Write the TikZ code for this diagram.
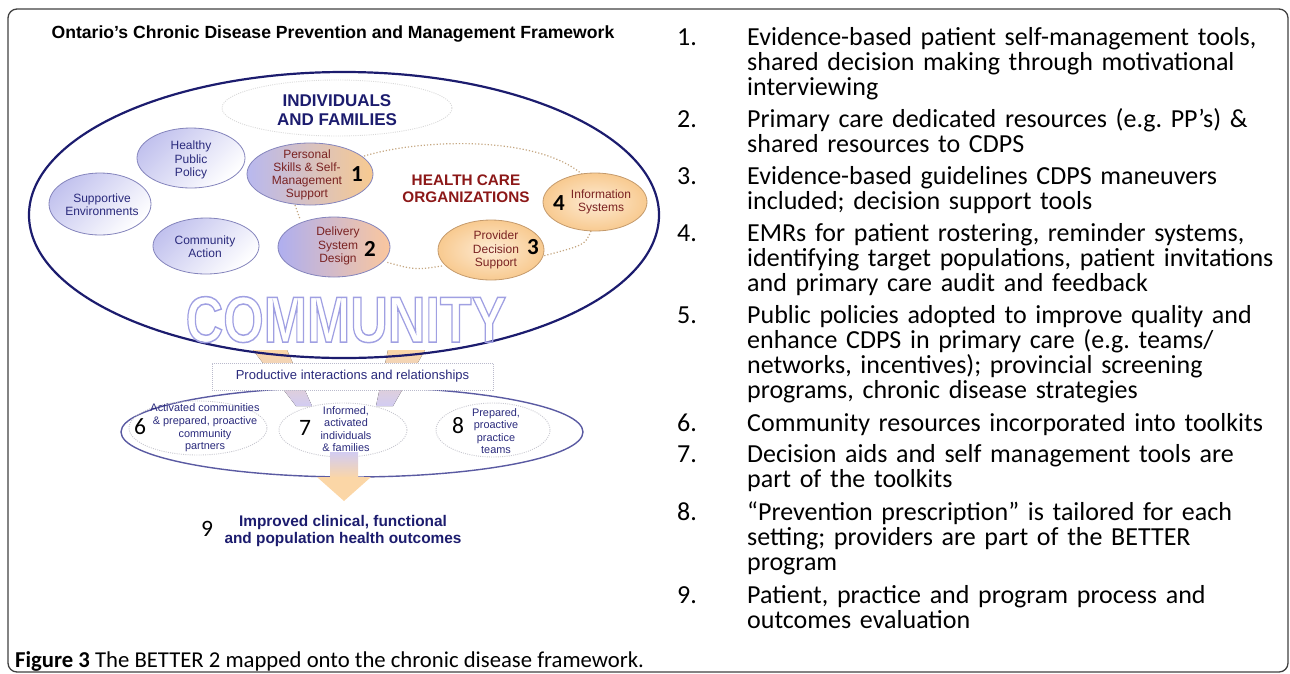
\documentclass[tikz,border=0pt]{standalone}
\usepackage{fontspec}
\usepackage{graphicx}
\setmainfont{Liberation Sans}
\newfontfamily\calfont{Carlito}
\usetikzlibrary{shapes.geometric}
\definecolor{navy}{HTML}{1C1C6E}
\definecolor{lav}{HTML}{C2C2EE}
\definecolor{lavline}{HTML}{8484BC}
\definecolor{peach}{HTML}{F8CA90}
\definecolor{peachlight}{HTML}{FDEBD4}
\definecolor{peachline}{HTML}{C49A6C}
\definecolor{funpeach}{HTML}{FBD6A6}
\definecolor{funlav}{HTML}{D2CCF2}
\definecolor{bluetext}{HTML}{2A2A7C}
\definecolor{redtext}{HTML}{7A2222}
\definecolor{hcred}{HTML}{8C1818}
\definecolor{dotbrown}{HTML}{C4A680}
\definecolor{dotgray}{HTML}{C8C8D0}
\definecolor{commline}{HTML}{A0A0E2}
\definecolor{lowline}{HTML}{5A5AA2}
\newcommand\outlinetext[1]{\special{pdf:literal direct 1 Tr 1.2 w}#1\special{pdf:literal direct 0 Tr}}
\begin{document}
\begin{tikzpicture}[x=1pt,y=-1pt,
  ell/.style={ellipse,inner sep=0pt},
  lavell/.style={ell,draw=lavline,line width=0.8pt,top color=lav,bottom color=white,shading angle=45},
  peachell/.style={ell,draw=peachline,line width=0.8pt,inner color=peachlight,outer color=peach},
  dotell/.style={ell,draw=dotgray,line width=0.9pt,dash pattern=on 1pt off 1.2pt},
  smalltxt/.style={align=center,inner sep=0pt,font=\fontsize{12}{13.2}\selectfont},
  lowtxt/.style={align=center,inner sep=0pt,font=\fontsize{10.9}{12.6}\selectfont,text=bluetext},
  num/.style={inner sep=0pt,font=\calfont\bfseries\fontsize{23}{23}\selectfont},
  numreg/.style={inner sep=0pt,font=\calfont\fontsize{23.5}{23.5}\selectfont},
  dotpath/.style={draw=dotbrown,line width=1.2pt,dash pattern=on 1.2pt off 2pt},
  listnum/.style={anchor=base west,inner sep=0pt,font=\calfont\fontsize{26}{25}\selectfont},
  listtxt/.style={anchor=base west,inner sep=0pt,text width=540pt,align=left,font=\calfont\frenchspacing\fontsize{26}{25}\selectfont}
]
\useasboundingbox (0,0) rectangle (1290,673);
\draw[line width=1.3pt,black!75,rounded corners=9pt] (8,9) rectangle (1288,672);

% title
\node[inner sep=0pt,font=\bfseries\fontsize{17.6}{17.6}\selectfont] (title) at (333,34) {Ontario's Chronic Disease Prevention and Management Framework};

% funnel arrows
\fill[top color=funpeach,bottom color=funlav] (253,350) -- (287,350) -- (312,406) -- (296,406) -- cycle;
\fill[top color=funpeach,bottom color=funlav] (388,350) -- (425,350) -- (393,406) -- (376,406) -- cycle;

% big ellipse
\node[ell,draw=navy,line width=2.2pt,minimum width=630pt,minimum height=286pt] (big) at (344,215) {};
\node[dotell,draw=black!15,minimum width=230pt,minimum height=56pt] (indiv) at (337,108) {};
\node[inner sep=0pt,align=center,text=navy,font=\bfseries\fontsize{17}{19}\selectfont] (indivt) at (337,110) {INDIVIDUALS\\AND FAMILIES};

% dotted health care loop
\draw[dotpath] (361,157) .. controls (420,138) and (540,135) .. (584,176);
\draw[dotpath] (591,231) .. controls (585,245) .. (543,256);
\draw[dotpath] (442,266) .. controls (415,270) .. (386,262);
\draw[dotpath] (295,205) -- (300,219);

% ellipses
\node[lavell,minimum width=108pt,minimum height=60pt] (hpp) at (191,158) {};
\node[lavell,minimum width=102pt,minimum height=62pt] (se) at (100,204) {};
\node[lavell,minimum width=106pt,minimum height=56pt] (ca) at (206,246) {};
\node[ell,draw=lavline,line width=0.8pt,left color=lav!95!blue,right color=peach,minimum width=126pt,minimum height=62pt] (ps) at (310,174) {};
\node[ell,draw=lavline,line width=0.8pt,left color=lav!90!blue,right color=peach!70!pink,minimum width=112pt,minimum height=60pt] (dsd) at (334,247) {};
\node[peachell,minimum width=104pt,minimum height=58pt] (info) at (595,202) {};
\node[peachell,minimum width=106pt,minimum height=60pt] (pds) at (491,250) {};

\node[smalltxt,text=bluetext] (hppt) at (191,160) {Healthy\\Public\\Policy};
\node[smalltxt,text=bluetext] (set) at (102,205) {Supportive\\Environments};
\node[smalltxt,text=bluetext] (cat) at (205,247) {Community\\Action};
\node[smalltxt,text=redtext] (pst) at (307,175) {Personal\\Skills \& Self-\\Management\\Support};
\node[smalltxt,text=redtext] (dsdt) at (338,246) {Delivery\\System\\Design};
\node[smalltxt,text=redtext] (infot) at (601,202) {Information\\Systems};
\node[smalltxt,text=redtext] (pdst) at (496,250) {Provider\\Decision\\Support};
\node[inner sep=0pt,align=center,text=hcred,font=\bfseries\fontsize{15.3}{17}\selectfont] (hco) at (466,189) {HEALTH CARE\\ORGANIZATIONS};

\node[num] (n1) at (357,174) {1};
\node[num] (n2) at (370,249) {2};
\node[num] (n3) at (533,247) {3};
\node[num] (n4) at (559,203) {4};

% COMMUNITY outline word
\node[anchor=base,inner sep=0pt,text=commline,font=\bfseries\fontsize{52}{52}\selectfont] (comm) at (346,342) {\scalebox{1}[1.25]{\outlinetext{COMMUNITY}}};

% lower ellipse
\node[ell,draw=lowline,line width=1.4pt,minimum width=462pt,minimum height=90pt] (low) at (352,432) {};
\node[dotell,minimum width=138pt,minimum height=54pt] (e6) at (198,428) {};
\node[dotell,minimum width=128pt,minimum height=54pt] (e7) at (343,430) {};
\node[dotell,minimum width=114pt,minimum height=54pt] (e8) at (493,430) {};
\node[draw=dotgray!80!lavline,fill=white,line width=0.9pt,dash pattern=on 1pt off 1pt,minimum width=281pt,minimum height=27pt,inner sep=0pt,font=\fontsize{13}{13}\selectfont,text=bluetext] (prod) at (352.5,376.5) {Productive interactions and relationships};

% big down arrow
\fill[top color=funlav,bottom color=funpeach] (330,452) rectangle (358,478);
\fill[funpeach] (317,477) -- (371,477) -- (344,501) -- cycle;

\node[lowtxt] (t6) at (205,428) {Activated communities\\\& prepared, proactive\\community\\partners};
\node[lowtxt] (t7) at (346,429) {Informed,\\activated\\individuals\\\& families};
\node[lowtxt] (t8) at (496,431) {Prepared,\\proactive\\practice\\teams};
\node[numreg] (n6) at (140,427) {6};
\node[numreg] (n7) at (305,428) {7};
\node[numreg] (n8) at (458,426) {8};

\node[numreg] (n9) at (207,529) {9};
\node[inner sep=0pt,align=center,text=navy,font=\bfseries\fontsize{15.4}{17}\selectfont] (outc) at (343,531) {Improved clinical, functional\\and population health outcomes};

% right list
\node[listnum] (l1) at (677,45) {1.};
\node[listtxt] (i1) at (747,45) {Evidence-based patient self-management tools,\\shared decision making through motivational\\interviewing};
\node[listnum] (l2) at (677,127) {2.};
\node[listtxt] (i2) at (747,127) {Primary care dedicated resources (e.g. PP’s) \&\\shared resources to CDPS};
\node[listnum] (l3) at (677,184) {3.};
\node[listtxt] (i3) at (747,184) {Evidence-based guidelines CDPS maneuvers\\included; decision support tools};
\node[listnum] (l4) at (677,241) {4.};
\node[listtxt] (i4) at (747,241) {EMRs for patient rostering, reminder systems,\\identifying target populations, patient invitations\\and primary care audit and feedback};
\node[listnum] (l5) at (677,323) {5.};
\node[listtxt] (i5) at (747,323) {Public policies adopted to improve quality and\\enhance CDPS in primary care (e.g. teams/\\networks, incentives); provincial screening\\programs, chronic disease strategies};
\node[listnum] (l6) at (677,431) {6.};
\node[listtxt] (i6) at (747,431) {Community resources incorporated into toolkits};
\node[listnum] (l7) at (677,462) {7.};
\node[listtxt] (i7) at (747,462) {Decision aids and self management tools are\\part of the toolkits};
\node[listnum] (l8) at (677,520) {8.};
\node[listtxt] (i8) at (747,520) {“Prevention prescription” is tailored for each\\setting; providers are part of the BETTER\\program};
\node[listnum] (l9) at (677,603) {9.};
\node[listtxt] (i9) at (747,603) {Patient, practice and program process and\\outcomes evaluation};

% caption
\node[anchor=base west,inner sep=0pt,font=\calfont\fontsize{22.7}{22.7}\selectfont] (cap) at (15,667) {\textbf{Figure 3} The BETTER 2 mapped onto the chronic disease framework.};
\end{tikzpicture}
\end{document}
